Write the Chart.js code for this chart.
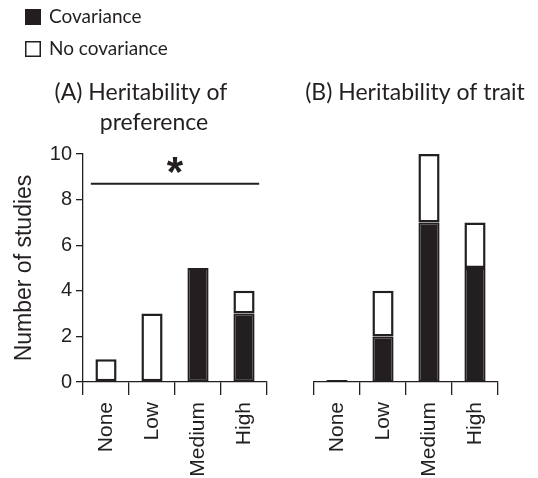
<!DOCTYPE html>
<html><head><meta charset="utf-8">
<script src="https://cdn.jsdelivr.net/npm/chart.js@4"></script>
<style>
html,body{margin:0;padding:0;background:#fff;}
#wrap{position:relative;width:538px;height:478px;overflow:hidden;}
canvas{position:absolute;left:0;top:0;}
</style>
</head><body>
<div id="wrap"><canvas id="a" width="538" height="478"></canvas><canvas id="b" width="538" height="478"></canvas></div>
<script>
const categories = ['None', 'Low', 'Medium', 'High'];
const prefCov = [0, 0, 5, 3];
const prefNoCov = [1, 3, 0, 1];
const traitCov = [0, 2, 7, 5];
const traitNoCov = [0, 2, 3, 2];
const yTicks = [0, 2, 4, 6, 8, 10];
const seriesNames = ['Covariance', 'No covariance'];
const titleA = ['(A) Heritability of', 'preference'];
const titleB = ['(B) Heritability of trait'];
const yTitle = 'Number of studies';
const sigLevel = 8.7;
const sigSpan = [-0.33, 3.33];
const sigMark = '*';

const INK = '#231f20';
const SANS = "'Liberation Sans', Arial, sans-serif";
const TFONT = "Lato, 'Open Sans', sans-serif";
Chart.defaults.font.family = SANS;
Chart.defaults.color = INK;

function datasets(cov, nocov, minLen) {
  const common = {borderColor: INK, borderSkipped: false, barPercentage: 0.46, categoryPercentage: 1};
  return [
    Object.assign({label: seriesNames[0], data: cov, backgroundColor: INK, borderWidth: 2, minBarLength: minLen}, common),
    Object.assign({label: seriesNames[1], data: nocov, backgroundColor: '#ffffff', borderWidth: 2.5}, common)
  ];
}

function xScale() {
  return {
    stacked: true,
    grid: {offset: true, drawOnChartArea: false, drawTicks: true, tickLength: 13, color: INK, lineWidth: 1.3},
    border: {display: true, color: INK, width: 1.3},
    ticks: {minRotation: 90, maxRotation: 90, autoSkip: false, padding: 7, color: INK, font: {size: 21}},
    afterFit(s) { s.height = 96; s.paddingLeft = 0; s.paddingRight = 0; }
  };
}

const deco = {
  id: 'deco',
  afterDraw(chart, args, opts) {
    const ctx = chart.ctx;
    const xs = chart.scales.x, ys = chart.scales.y;
    ctx.save();
    ctx.fillStyle = INK;
    ctx.strokeStyle = INK;
    ctx.textAlign = 'center';
    ctx.textBaseline = 'middle';
    ctx.font = '23px ' + TFONT;
    (opts.title || []).forEach((t, i) => ctx.fillText(t, opts.titleX[i], opts.titleY[i]));
    if (opts.legend) {
      ctx.textAlign = 'left';
      ctx.font = '19px ' + TFONT;
      const items = [[INK, 9], ['#ffffff', 41]];
      items.forEach((it, i) => {
        ctx.fillStyle = it[0];
        ctx.fillRect(25, it[1], 16, 16);
        ctx.lineWidth = 1.5;
        ctx.strokeStyle = INK;
        ctx.strokeRect(25.75, it[1] + 0.75, 14.5, 14.5);
        ctx.fillStyle = INK;
        ctx.fillText(seriesNames[i], 49, it[1] + 8);
      });
    }
    if (opts.sig) {
      const y = ys.getPixelForValue(sigLevel);
      const x1 = xs.getPixelForValue(sigSpan[0]);
      const x2 = xs.getPixelForValue(sigSpan[1]);
      ctx.lineWidth = 2;
      ctx.beginPath();
      ctx.moveTo(x1, y);
      ctx.lineTo(x2, y);
      ctx.stroke();
      ctx.textAlign = 'center';
      ctx.textBaseline = 'alphabetic';
      ctx.font = 'bold 42px ' + SANS;
      const m = ctx.measureText(sigMark);
      const cy = y - 19;
      ctx.fillText(sigMark, (x1 + x2) / 2, cy + (m.actualBoundingBoxAscent - m.actualBoundingBoxDescent) / 2);
    }
    ctx.restore();
  }
};

new Chart(document.getElementById('a'), {
  type: 'bar',
  data: {labels: categories, datasets: datasets(prefCov, prefNoCov, 0)},
  options: {
    responsive: false, animation: false, devicePixelRatio: 1,
    layout: {padding: {left: 0, right: 271, top: 154, bottom: 0}},
    plugins: {
      legend: {display: false}, tooltip: {enabled: false},
      deco: {title: titleA, titleX: [141, 154], titleY: [93, 123], legend: true, sig: true}
    },
    scales: {
      x: xScale(),
      y: {
        stacked: true, min: 0, max: 10,
        afterBuildTicks(s) { s.ticks = yTicks.map(v => ({value: v})); },
        grid: {drawOnChartArea: false, drawTicks: true, tickLength: 7, color: INK, lineWidth: 1.3},
        border: {display: true, color: INK, width: 1.3},
        ticks: {padding: 4, color: INK, font: {size: 20}},
        title: {display: true, text: yTitle, color: INK, font: {size: 23}, padding: {top: 11, bottom: 0}},
        afterFit(s) { s.width = 83; s.paddingTop = 0; s.paddingBottom = 0; }
      }
    }
  },
  plugins: [deco]
});

new Chart(document.getElementById('b'), {
  type: 'bar',
  data: {labels: categories, datasets: datasets(traitCov, traitNoCov, 2)},
  options: {
    responsive: false, animation: false, devicePixelRatio: 1,
    layout: {padding: {left: 314, right: 40, top: 154, bottom: 0}},
    plugins: {
      legend: {display: false}, tooltip: {enabled: false},
      deco: {title: titleB, titleX: [415], titleY: [93], legend: false, sig: false}
    },
    scales: {
      x: xScale(),
      y: {display: false, stacked: true, min: 0, max: 10}
    }
  },
  plugins: [deco]
});
</script>
</body></html>
